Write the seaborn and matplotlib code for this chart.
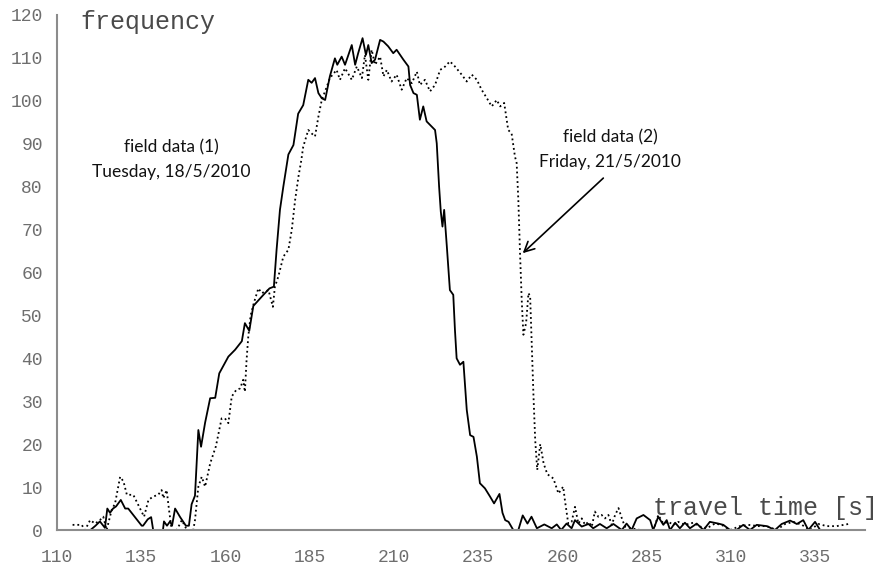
import matplotlib
matplotlib.use("Agg")
import matplotlib.pyplot as plt
import pandas as pd
import seaborn as sns

# travel time [s] and frequency
x_tue = [115, 120, 121.5, 122.8, 124.3, 125, 125.8, 126.7, 127.6, 129, 130.3, 131.2, 133.2,
         135.2, 135.6, 137, 138, 138.6, 141.5, 141.8, 142.7, 143.6, 144.2, 145.1, 146.6,
         148.3, 149.2, 150, 151, 152, 152.8, 154, 155.5, 157, 158.2, 160.9, 162.9, 164.9,
         165.8, 167.1, 168.3, 171.3, 173.1, 174.4, 175.2, 176.2, 177.2, 178.7, 180.2, 181.6,
         183.1, 184.6, 185.6, 186.6, 187.6, 188.6, 189.6, 190.5, 191, 192.5, 193.2, 194.5,
         195.5, 197.5, 198.5, 199.4, 200.7, 201.7, 202.4, 203.4, 204.4, 205.9, 206.9, 208.3,
         209.8, 210.8, 212.8, 214.3, 214.8, 215.8, 216.8, 217.7, 218.7, 219.7, 221.2, 222.2,
         222.7, 223.4, 223.9, 224.4, 224.9, 225.7, 226.6, 227.6, 228.1, 228.6, 229.6, 230.6,
         231.6, 232.6, 233.6, 234.6, 235.5, 237, 238.5, 239.7, 241.3, 242.2, 243, 244, 245.4,
         246.9, 248.2, 249.6, 250.8, 252.4, 254.6, 256.8, 258.3, 259.6, 261.2, 262.7, 263.7,
         265.7, 267.7, 269.1, 271.1, 273.1, 275.1, 277.6, 279, 280.5, 282, 284, 286, 286.9,
         288.4, 289.9, 290.9, 291.9, 293.4, 294.8, 296.3, 297.8, 299.8, 301.8, 303.7, 306.2,
         307.7, 309.7, 311.6, 313.6, 315.6, 317.6, 320.6, 323, 325, 327.5, 329.5, 331.4,
         332.9, 334.9, 336.4, 349]
y_tue = [0, 0, 1, 2, 0.5, 5, 4, 5, 5.5, 7, 5, 5, 3,
         1, 1, 2.5, 3, 0, 0, 2, 1, 2, 1, 5, 3,
         1, 1, 6, 8, 23.3, 19.4, 25, 30.7, 30.8, 36.5, 40.4, 42, 44,
         48.2, 46.4, 52.2, 54.8, 56.3, 56.7, 65.3, 74.6, 80, 87.5, 89.7, 97,
         99, 104.9, 104.2, 105.3, 101.8, 100.6, 100.2, 103.7, 105.7, 109.9, 108.4, 110.3,
         108.4, 113, 108.4, 111.1, 114.6, 110.7, 113, 108.8, 109.6, 114.2, 113.8, 112.7,
         111.1, 111.9, 109.6, 108, 103.7, 101.8, 101.4, 95.6, 98.7, 95.2, 94, 93.2,
         90.1, 80, 74.2, 70.7, 74.6, 66, 55.9, 54.8, 46.6, 40, 38.5, 39.2,
         28, 22.1, 21.7, 17.1, 10.9, 9.7, 7.8, 6.2, 8.4, 4, 2.3, 1.9, 0,
         0, 3.4, 1.5, 3.1, 0.4, 1.3, 0.4, 1.3, 0, 1.5, 0.4, 2.3,
         0.8, 1.4, 0.4, 1.4, 0.4, 1.4, 0, 1.5, 0, 2.7, 3.5, 2.3, 0,
         3.1, 1.2, 2.3, 0, 1.7, 0.4, 1.7, 0.4, 1.5, 0, 1.9, 1.5,
         1.2, 0, 0, 1.2, 0, 1.2, 0.9, 0, 1.4, 2.2, 1.4, 2.3,
         0, 1.9, 0, 0]

x_fri = [114.7, 117.4, 118.4, 119.9, 121.4, 122.8, 123.8, 124.8, 126.3, 127.3, 128.8, 129.8,
         130.8, 132.7, 134.2, 135.9, 137.2, 138.6, 140.1, 141.1, 141.6, 142.6, 143.3, 144.1,
         145.6, 147.1, 148.6, 150.5, 151, 152, 153, 154, 155.5, 157.2, 158.9, 159.9, 160.9,
         161.9, 163.2, 164.4, 165.3, 165.8, 166.3, 166.8, 167.5, 168.5, 169.8, 170.8, 172.8,
         174.1, 174.7, 175.7, 177.2, 178.7, 179.7, 180.7, 181.7, 182.5, 183.1, 184.6, 185.6,
         186.6, 187.6, 188.6, 190.1, 191, 193, 194, 195.5, 197.5, 199, 200.5, 201.4, 202.4,
         203.4, 204.4, 205.9, 206.9, 207.9, 209.3, 210.8, 212.3, 213.8, 215.3, 216.8, 217.7,
         219.2, 220.7, 222.2, 223.7, 225.2, 226.6, 228.1, 230.1, 231.6, 233.1, 234.6, 236,
         237.5, 239, 240.5, 241.5, 242.7, 243.9, 244.9, 245.9, 246.4, 246.9, 247.4, 247.9,
         248.4, 249.2, 249.9, 250.4, 250.9, 251.4, 251.9, 252.5, 253.4, 254.4, 255.5, 257.3,
         258.8, 260.2, 260.7, 261.7, 262.7, 263.7, 264.7, 265.7, 266.7, 267.7, 268.7, 269.6,
         270.6, 271.6, 272.6, 273.6, 274.6, 275.6, 276.6, 277.6, 278.5, 280.5, 283, 287,
         288.4, 289.9, 291.4, 292.9, 294.3, 296.3, 298.8, 300.8, 302.8, 305.2, 307.2, 309.7,
         312.6, 315.1, 318.1, 320.6, 323.5, 326, 328.5, 331, 333.4, 335.9, 338.4, 341.3, 344.8]
y_fri = [1.2, 1.2, 0, 2.3, 1.5, 2.3, 3.1, 0, 4.7, 6.2, 12.4, 11.3,
         8.2, 8.2, 5.8, 3.1, 7, 7.8, 8.2, 9.3, 7.4, 9.3, 4.7, 0,
         0, 2.3, 0, 0, 2.3, 10.1, 12.4, 10.1, 15.5, 19.5, 26, 26, 24.9,
         31.1, 32.6, 33, 35, 32.2, 39.6, 45, 50, 53, 56.3, 55.2, 55.9,
         52, 56.7, 59, 63.7, 65.3, 69.9, 76.9, 82.4, 86, 89.3, 93.2, 92.4,
         91.7, 96.3, 100.2, 103.3, 105.3, 107.2, 104.9, 107.6, 104.9, 108, 105.3, 110.7, 104.9,
         111.9, 108.4, 110.3, 105.7, 107.2, 104.5, 106.1, 102.6, 105.3, 104.1, 106.8, 103.7,
         104.9, 102.2, 103.7, 107.2, 108, 109.2, 108, 106.1, 104.5, 106.1, 104.9, 102.6,
         100.7, 98.7, 100.2, 98.7, 99.5, 93.2, 92.4, 87, 85.5, 76.9, 64.5, 53.6,
         45.5, 48.2, 55.2, 54.4, 43, 31, 21, 14, 20, 15.5, 13, 12,
         8.5, 10.1, 7, 1.5, 1.9, 5.4, 1.5, 2.7, 1.2, 1.9, 0.8, 4.3,
         3.1, 3.5, 2.7, 3.5, 1.2, 3.5, 5.1, 2.7, 0.8, 0.4, 0, 0,
         3.5, 1.5, 1.9, 1.2, 1.9, 1.2, 1.7, 0.8, 0.4, 1.5, 1.2, 0,
         0.9, 1.2, 0.9, 0.9, 0, 1.4, 1.9, 1.2, 0, 1.4, 0.9, 0.9, 1.4]

x_ticks = [110, 135, 160, 185, 210, 235, 260, 285, 310, 335]
y_ticks = list(range(0, 121, 10))

df_tue = pd.DataFrame({"time": x_tue, "freq": y_tue})
df_fri = pd.DataFrame({"time": x_fri, "freq": y_fri})

sns.set_style("white")
plt.rcParams["font.family"] = ["Liberation Mono", "DejaVu Sans"]

fig = plt.figure(figsize=(8.81, 5.68), dpi=100)
ax = fig.add_axes([0.0644, 0.0669, 0.9174, 0.9067])

sns.lineplot(data=df_tue, x="time", y="freq", ax=ax, color="black",
             linewidth=1.3, estimator=None)
sns.lineplot(data=df_fri, x="time", y="freq", ax=ax, color="black",
             linewidth=1.3, linestyle=":", estimator=None)

ax.set_xlim(110, 349.7)
ax.set_ylim(0, 120)
ax.set_xticks(x_ticks)
ax.set_yticks(y_ticks)
ax.set_xlabel("")
ax.set_ylabel("")

grey = "#8c8c8c"
for side in ["top", "right"]:
    ax.spines[side].set_visible(False)
for side in ["left", "bottom"]:
    ax.spines[side].set_color(grey)
    ax.spines[side].set_linewidth(1.5)
ax.tick_params(axis="both", colors=grey, length=6, width=1.2, direction="out",
               labelsize=13, labelcolor="#6e6e6e")
ax.tick_params(axis="x", pad=8)
ax.tick_params(axis="y", pad=4)

# axis titles drawn inside the plot, like the reference
fig.text(80 / 881, 1 - 22 / 568, "frequency", fontsize=18, color="#4a4a4a",
         ha="left", va="center")
fig.text(878 / 881, 1 - 508 / 568, "travel time [s]", fontsize=18, color="#4a4a4a",
         ha="right", va="center")

ann = dict(fontsize=12.5, family=["Lato", "DejaVu Sans"], color="#111111",
           ha="center", va="center")
fig.text(171 / 881, 1 - 147 / 568, "field data (1)", **ann)
fig.text(171 / 881, 1 - 172 / 568, "Tuesday, 18/5/2010", **ann)
fig.text(610 / 881, 1 - 137 / 568, "field data (2)", **ann)
fig.text(610 / 881, 1 - 162 / 568, "Friday, 21/5/2010", **ann)

ax.annotate("", xy=(248.2, 64.5), xytext=(272.1, 82),
            arrowprops=dict(arrowstyle="->", color="black", lw=1.2,
                            mutation_scale=18, shrinkA=0, shrinkB=0))

fig.savefig("out.png", dpi=100)
